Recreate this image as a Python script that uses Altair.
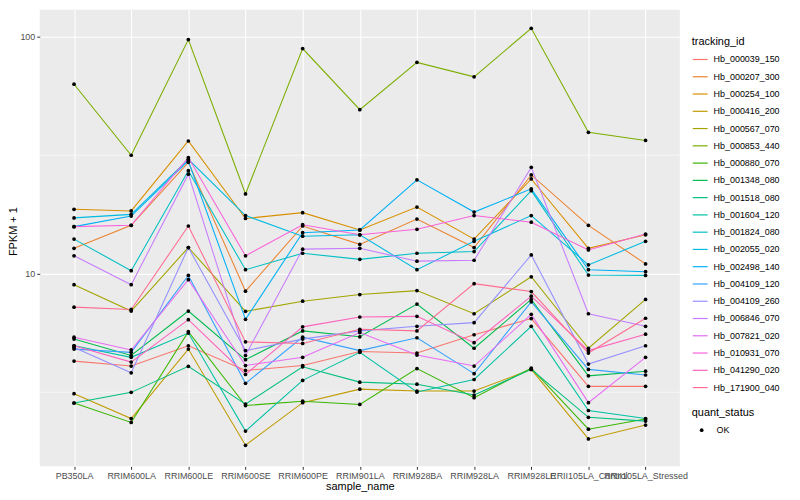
import altair as alt
import pandas as pd

samples = ["PB350LA", "RRIM600LA", "RRIM600LE", "RRIM600SE", "RRIM600PE", "RRIM901LA",
           "RRIM928BA", "RRIM928LA", "RRIM928LE", "RRII105LA_Control", "RRII105LA_Stressed"]

hb_000039_150 = [4.28, 4.08, 4.97, 3.91, 4.10, 4.70, 4.63, 5.53, 6.47, 3.35, 3.35]
hb_000207_300 = [12.8, 16.0, 29.5, 8.44, 15.9, 13.3, 17.0, 12.9, 26.1, 16.0, 11.0]
hb_000254_100 = [18.7, 18.4, 36.3, 17.1, 18.1, 15.3, 19.1, 14.0, 25.1, 12.8, 14.6]
hb_000416_200 = [3.12, 2.45, 4.81, 1.89, 2.86, 3.26, 3.20, 3.20, 3.95, 2.01, 2.30]
hb_000567_070 = [8.99, 6.96, 12.9, 6.94, 7.66, 8.17, 8.49, 6.78, 9.71, 4.85, 7.79]
hb_000853_440 = [63.0, 31.6, 97.2, 21.7, 89.1, 49.2, 77.9, 67.7, 108.4, 39.5, 36.5]
hb_000880_070 = [2.85, 2.36, 5.70, 2.78, 2.90, 2.81, 3.98, 3.00, 4.00, 2.21, 2.44]
hb_001348_080 = [5.30, 4.52, 6.96, 4.34, 5.74, 5.42, 7.45, 4.85, 7.79, 3.71, 3.88]
hb_001518_080 = [2.85, 3.16, 4.07, 2.82, 4.05, 3.49, 3.42, 3.08, 3.95, 2.48, 2.39]
hb_001604_120 = [4.97, 4.44, 5.62, 2.17, 3.55, 4.66, 3.17, 3.58, 6.00, 2.65, 2.45]
hb_001824_080 = [14.0, 10.3, 27.2, 10.4, 12.2, 11.5, 12.2, 12.4, 22.4, 9.87, 9.84]
hb_002055_020 = [17.2, 17.8, 30.4, 17.6, 14.4, 14.6, 10.4, 13.7, 17.6, 10.9, 13.7]
hb_002498_140 = [15.8, 17.5, 29.9, 6.42, 14.9, 15.3, 24.9, 18.2, 22.8, 10.4, 10.2]
hb_004109_120 = [4.81, 4.66, 9.84, 3.45, 5.40, 4.74, 5.37, 3.79, 7.61, 3.95, 3.74]
hb_004109_260 = [4.89, 3.82, 12.9, 4.74, 5.30, 5.74, 6.00, 6.22, 12.0, 4.16, 4.97]
hb_006846_070 = [11.9, 8.99, 26.3, 4.52, 12.7, 12.8, 11.3, 11.4, 28.1, 6.78, 6.00]
hb_007821_020 = [5.40, 4.77, 9.44, 4.10, 4.44, 5.65, 4.54, 4.08, 6.74, 2.86, 4.44]
hb_010931_070 = [15.8, 16.0, 30.9, 11.9, 16.1, 14.6, 15.4, 17.6, 16.5, 12.6, 14.7]
hb_041290_020 = [4.97, 4.24, 6.40, 3.76, 5.97, 6.57, 6.61, 5.12, 8.04, 4.74, 5.56]
hb_171900_040 = [7.23, 7.07, 15.9, 5.16, 5.08, 5.83, 5.74, 9.08, 8.41, 4.63, 6.49]

tracking_ids = ["Hb_000039_150", "Hb_000207_300", "Hb_000254_100", "Hb_000416_200",
                "Hb_000567_070", "Hb_000853_440", "Hb_000880_070", "Hb_001348_080",
                "Hb_001518_080", "Hb_001604_120", "Hb_001824_080", "Hb_002055_020",
                "Hb_002498_140", "Hb_004109_120", "Hb_004109_260", "Hb_006846_070",
                "Hb_007821_020", "Hb_010931_070", "Hb_041290_020", "Hb_171900_040"]
series_values = [hb_000039_150, hb_000207_300, hb_000254_100, hb_000416_200,
                 hb_000567_070, hb_000853_440, hb_000880_070, hb_001348_080,
                 hb_001518_080, hb_001604_120, hb_001824_080, hb_002055_020,
                 hb_002498_140, hb_004109_120, hb_004109_260, hb_006846_070,
                 hb_007821_020, hb_010931_070, hb_041290_020, hb_171900_040]
colors = ["#F8766D", "#EA8331", "#D89000", "#C09B00", "#A3A500", "#7CAE00", "#39B600",
          "#00BB4E", "#00BF7D", "#00C1A3", "#00BFC4", "#00BAE0", "#00B0F6", "#35A2FF",
          "#9590FF", "#C77CFF", "#E76BF3", "#FA62DB", "#FF62BC", "#FF6C91"]

y_major = [10, 100]
y_minor = [3.162, 31.62]

rows = []
for tid, vals in zip(tracking_ids, series_values):
    for s, v in zip(samples, vals):
        rows.append({"tracking_id": tid, "sample_name": s, "fpkm": v, "quant_status": "OK"})
df = pd.DataFrame(rows)

yscale = alt.Scale(type="log", domain=[1.54, 129.7], nice=False)
xenc = alt.X("sample_name:N", sort=samples,
             scale=alt.Scale(type="point", padding=0.6),
             axis=alt.Axis(title="sample_name", labelAngle=0, labelOverlap=False,
                           grid=True, titleX=322.5, titleY=20, titleBaseline="middle"))
yenc = alt.Y("fpkm:Q", scale=yscale,
             axis=alt.Axis(title="FPKM + 1", values=y_major, format="d", grid=True,
                           titleX=-26, titleY=223, titleBaseline="middle"))

minor = alt.Chart(pd.DataFrame({"fpkm": y_minor})).mark_rule(
    color="white", strokeWidth=0.55).encode(y=yenc)

lines = alt.Chart(df).mark_line(strokeWidth=1.07).encode(
    x=xenc, y=yenc,
    color=alt.Color("tracking_id:N", scale=alt.Scale(domain=tracking_ids, range=colors),
                    legend=alt.Legend(title="tracking_id", orient="none", legendX=657,
                                      legendY=26, direction="vertical",
                                      symbolType="stroke", symbolSize=225,
                                      symbolStrokeWidth=1.2, rowPadding=3.4,
                                      labelOffset=5, titlePadding=4.5)))

points = alt.Chart(df).mark_point(filled=True, size=14, opacity=1, color="black").encode(
    x=xenc, y=yenc,
    shape=alt.Shape("quant_status:N", scale=alt.Scale(domain=["OK"], range=["circle"]),
                    legend=alt.Legend(title="quant_status", orient="none", legendX=657,
                                      legendY=400, direction="vertical",
                                      symbolFillColor="black", symbolStrokeColor="black",
                                      symbolSize=14, symbolOffset=5.5, labelOffset=10.5,
                                      titlePadding=8)))

chart = alt.layer(minor, lines, points).properties(
    width=645, height=460,
    autosize=alt.AutoSizeParams(type="none"),
    padding={"left": 32, "top": 0, "right": 113, "bottom": 32},
).configure(font="Liberation Sans").configure_view(
    fill="#EBEBEB", stroke=None
).configure_axis(
    domain=False, tickColor="#333333", tickSize=3, tickWidth=1,
    labelColor="#4D4D4D", labelFontSize=9, labelPadding=2,
    titleFontSize=11, titleFontWeight="normal", titleColor="black",
    gridColor="white", gridWidth=1.07,
).configure_legend(
    labelFontSize=9, labelColor="black", titleFontSize=11,
    titleFontWeight="normal", titleColor="black",
)

chart.save("out.html", embed_options={"renderer": "svg", "actions": False})
